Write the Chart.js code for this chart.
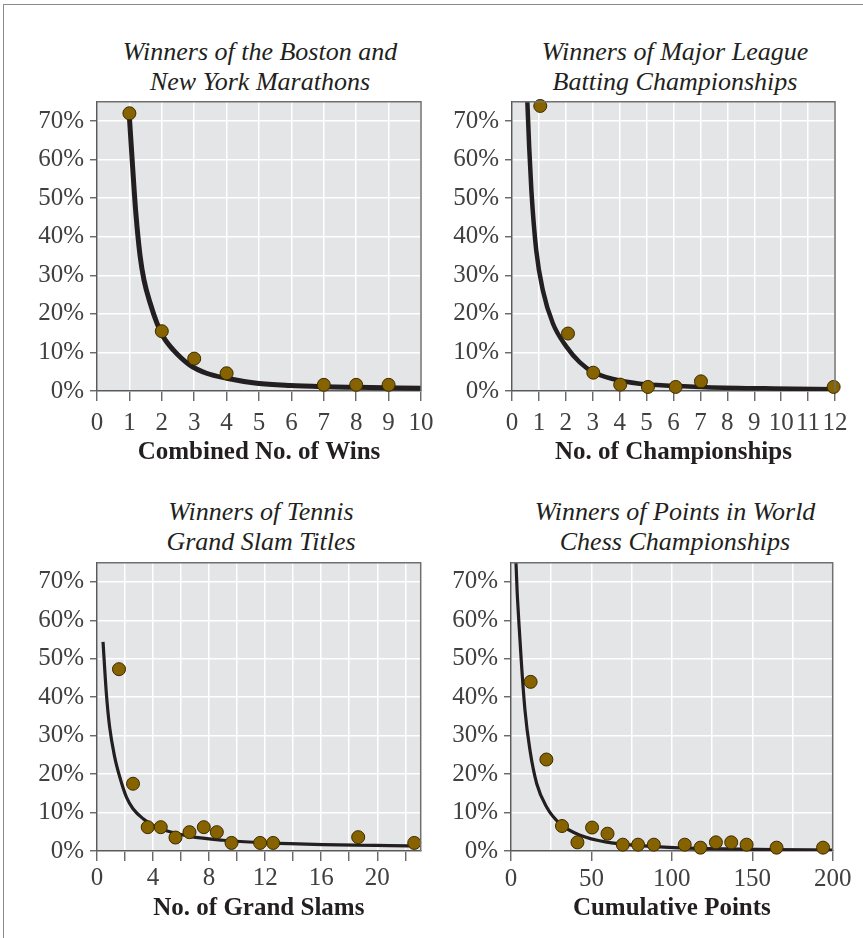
<!DOCTYPE html>
<html lang="en">
<head>
<meta charset="UTF-8">
<title>Winners distributions</title>
<script src="https://cdn.jsdelivr.net/npm/chart.js"></script>
<style>
  html, body { margin: 0; padding: 0; background: #fff; }
  body { width: 863px; height: 938px; position: relative; overflow: hidden; }
  .frame { position: absolute; left: 3px; top: 4px; width: 900px; height: 1000px;
           border-left: 1.5px solid #8a8a8a; border-top: 1.5px solid #8a8a8a; }
  .title { position: absolute; width: 420px; text-align: center; font-family: "Liberation Serif", serif;
           font-style: italic; font-size: 26px; line-height: 30px; color: #231f20; }
  canvas { position: absolute; }
</style>
</head>
<body>
<div class="frame"></div>

<div class="title" style="left:50px; top:37px;">Winners of the Boston and<br>New York Marathons</div>
<div class="title" style="left:465px; top:37px;">Winners of Major League<br>Batting Championships</div>
<div class="title" style="left:51px; top:497px;">Winners of Tennis<br>Grand Slam Titles</div>
<div class="title" style="left:465px; top:497px;">Winners of Points in World<br>Chess Championships</div>

<canvas id="c1" style="left:0px; top:90px;"></canvas>
<canvas id="c2" style="left:440px; top:90px;"></canvas>
<canvas id="c3" style="left:0px; top:552px;"></canvas>
<canvas id="c4" style="left:440px; top:552px;"></canvas>

<script>
// --- data (percent of winners) ---
const yTicks = [0, 10, 20, 30, 40, 50, 60, 70];

// Boston + New York marathons
const marathonWins = [1, 2, 3, 4, 7, 8, 9];
const marathonPct  = [72, 15.5, 8.4, 4.6, 1.6, 1.6, 1.6];
const marathonFitX = [1, 1.1, 1.2, 1.33, 1.45, 1.64, 1.85, 2.05, 2.36, 2.87, 3.38, 4.0, 4.93, 5.96, 7, 8, 10];
const marathonFitY = [71, 58, 46, 35, 28.8, 22.8, 17.6, 14, 10.6, 6.7, 4.6, 3.3, 2.0, 1.4, 1.1, 0.95, 0.7];

// batting championships
const battingTitles = [1.05, 2.08, 3.02, 4.02, 5.05, 6.08, 7.02, 11.95];
const battingPct    = [73.9, 14.9, 4.75, 1.65, 1.05, 1.05, 2.5, 1.05];
const battingFitX = [0.53, 0.57, 0.64, 0.72, 0.9, 1.15, 1.52, 2.02, 2.52, 3.01, 3.75, 4.75, 5.98, 7.22, 9.7, 12];
const battingFitY = [84, 75, 63, 52, 36.5, 26, 17.5, 11.5, 7.4, 4.9, 3.1, 1.9, 1.35, 1.0, 0.65, 0.45];

// tennis grand slams
const slamTitles = [1.57, 2.57, 3.62, 4.55, 5.6, 6.6, 7.62, 8.55, 9.6, 11.64, 12.57, 18.64, 22.64];
const slamPct    = [47.3, 17.5, 6.2, 6.2, 3.5, 4.9, 6.2, 4.9, 2.1, 2.1, 2.1, 3.6, 2.1];
const slamFitX = [0.43, 0.67, 0.9, 1.26, 1.62, 2.1, 2.57, 3.29, 4.24, 5.43, 6.62, 9, 11.38, 13.76, 16.1, 18.5, 20.9, 22.9];
const slamFitY = [54.4, 40.9, 32.3, 24.5, 19.3, 14, 11, 8.4, 6.2, 4.8, 3.8, 2.8, 2.25, 1.9, 1.65, 1.5, 1.4, 1.3];

// chess championship points
const chessPoints = [12.2, 22, 31.7, 41.3, 50.4, 60, 69.5, 79, 88.8, 108, 117.8, 127.4, 136.9, 146.5, 165.1, 194];
const chessPct    = [44, 23.8, 6.5, 2.25, 6.1, 4.5, 1.65, 1.65, 1.65, 1.65, 0.87, 2.25, 2.25, 1.65, 0.87, 0.87];
const chessFitX = [2.6, 3.1, 5.6, 8.7, 11.8, 16, 22.2, 30.5, 43, 59.5, 80.3, 101, 121.8, 163, 199.6];
const chessFitY = [84, 75, 54.8, 36.6, 26.2, 17.5, 11.4, 7.1, 4.1, 2.3, 1.4, 0.87, 0.6, 0.35, 0.26];

const SERIF = '"Liberation Serif", serif';
const INK = '#231f20';
const LABEL = '#404040';
const AXIS = '#5a5a5a';

// gray plot panel + top/right frame
const plotBg = {
  id: 'plotBg',
  beforeDraw(chart) {
    const { ctx, chartArea: a } = chart;
    ctx.save();
    ctx.fillStyle = '#e4e5e7';
    ctx.fillRect(a.left, a.top, a.right - a.left, a.bottom - a.top);
    ctx.restore();
  },
  afterDraw(chart) {
    const { ctx, chartArea: a } = chart;
    ctx.save();
    ctx.strokeStyle = '#707070';
    ctx.lineWidth = 1.5;
    ctx.beginPath();
    ctx.moveTo(a.left, a.top);
    ctx.lineTo(a.right, a.top);
    ctx.lineTo(a.right, a.bottom);
    ctx.stroke();
    ctx.restore();
  }
};

const toXY = (xs, ys) => xs.map((x, i) => ({ x: x, y: ys[i] }));

function makeChart(id, w, h, o) {
  const cv = document.getElementById(id);
  cv.width = w; cv.height = h;
  cv.style.width = w + 'px'; cv.style.height = h + 'px';
  return new Chart(cv, {
    type: 'scatter',
    data: {
      datasets: [
        {
          data: toXY(o.px, o.py),
          backgroundColor: '#876300',
          borderColor: '#3b2a00',
          borderWidth: 1,
          pointRadius: 6.5,
          pointHoverRadius: 6.5,
          clip: false,
          order: 0
        },
        {
          type: 'line',
          data: toXY(o.fx, o.fy),
          borderColor: INK,
          borderWidth: o.lw,
          pointRadius: 0,
          cubicInterpolationMode: 'monotone',
          fill: false,
          order: 1
        }
      ]
    },
    options: {
      responsive: false,
      animation: false,
      events: [],
      layout: { padding: { left: 0, top: o.padTop, right: o.padRight, bottom: 0 } },
      plugins: { legend: { display: false }, tooltip: { enabled: false } },
      scales: {
        x: {
          type: 'linear',
          min: 0, max: o.xMax,
          afterFit: s => { s.height = o.xh; s.paddingLeft = 0; s.paddingRight = 0; },
          ticks: {
            stepSize: o.step,
            includeBounds: false,
            autoSkip: false,
            maxRotation: 0,
            padding: o.tickPad,
            color: LABEL,
            font: { family: SERIF, size: 25 },
            callback: v => (v % o.labelEvery === 0 ? String(v) : '')
          },
          grid: {
            color: '#ffffff',
            lineWidth: 1.5,
            tickLength: 10,
            tickWidth: 1.3,
            tickColor: c => (c.tick && c.tick.value % o.markEvery === 0 ? AXIS : 'rgba(0,0,0,0)')
          },
          border: { display: true, color: AXIS, width: 1.5 },
          title: {
            display: true,
            text: o.xTitle,
            color: INK,
            font: { family: SERIF, size: 25, weight: 'bold' },
            padding: { top: 0, bottom: o.titlePad }
          }
        },
        y: {
          type: 'linear',
          min: 0, max: 75,
          afterFit: s => { s.width = o.yw; s.paddingTop = 0; s.paddingBottom = 0; },
          afterBuildTicks: s => { s.ticks = yTicks.map(v => ({ value: v })); },
          ticks: {
            padding: 6,
            color: LABEL,
            font: { family: SERIF, size: 25 },
            callback: v => v + '%'
          },
          grid: {
            color: '#ffffff',
            lineWidth: 1.5,
            tickLength: 7,
            tickWidth: 1.3,
            tickColor: AXIS
          },
          border: { display: true, color: AXIS, width: 1.5 }
        }
      }
    },
    plugins: [plotBg]
  });
}

makeChart('c1', 440, 385, {
  px: marathonWins, py: marathonPct, fx: marathonFitX, fy: marathonFitY, lw: 5,
  xMax: 10, step: 1, labelEvery: 1, markEvery: 1, xTitle: 'Combined No. of Wins',
  padTop: 11.7, padRight: 19, yw: 97, xh: 84, tickPad: 7, titlePad: 7
});
makeChart('c2', 414, 385, {
  px: battingTitles, py: battingPct, fx: battingFitX, fy: battingFitY, lw: 4.5,
  xMax: 12, step: 1, labelEvery: 1, markEvery: 1, xTitle: 'No. of Championships',
  padTop: 11.7, padRight: 19, yw: 72, xh: 84, tickPad: 7, titlePad: 7
});
makeChart('c3', 440, 383, {
  px: slamTitles, py: slamPct, fx: slamFitX, fy: slamFitY, lw: 3.2,
  xMax: 23.1, step: 2, labelEvery: 4, markEvery: 2, xTitle: 'No. of Grand Slams',
  padTop: 10.7, padRight: 19.3, yw: 97, xh: 84, tickPad: 2.3, titlePad: 11.6
});
makeChart('c4', 414, 383, {
  px: chessPoints, py: chessPct, fx: chessFitX, fy: chessFitY, lw: 3.2,
  xMax: 200, step: 25, labelEvery: 50, markEvery: 50, xTitle: 'Cumulative Points',
  padTop: 10.7, padRight: 21.3, yw: 71, xh: 84, tickPad: 3.3, titlePad: 11.6
});
</script>
</body>
</html>
